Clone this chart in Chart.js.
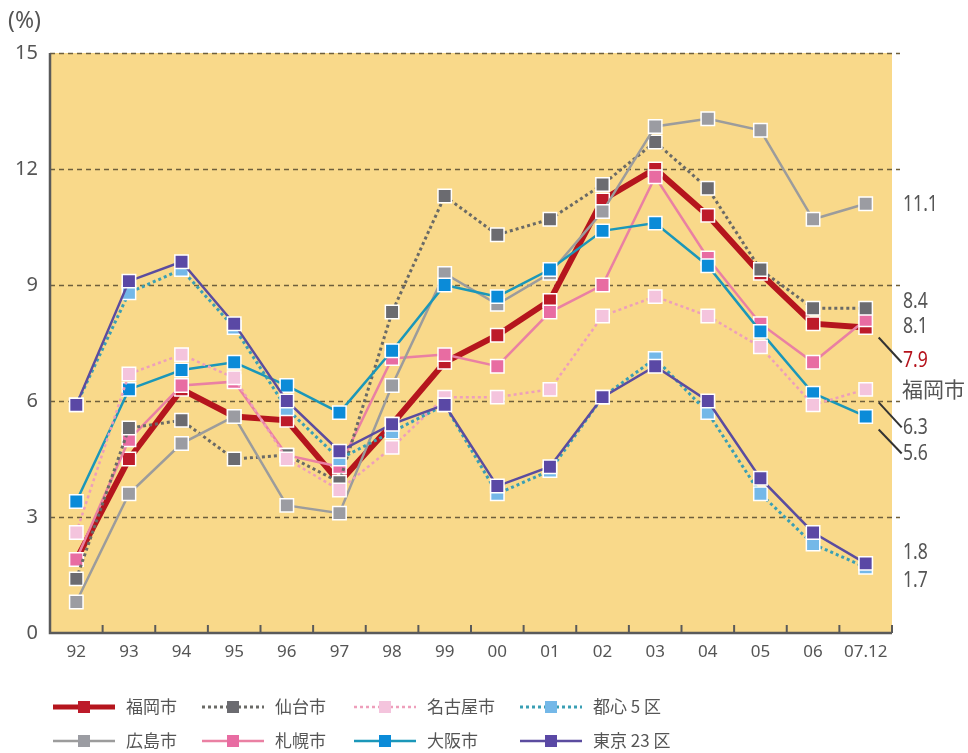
<!DOCTYPE html>
<html>
<head>
    <meta charset="utf-8">
    <title>空室率の推移</title>
    <script src="https://cdn.jsdelivr.net/npm/chart.js"></script>
    <style>
        body {
            margin: 0;
            background: #fff;
        }
    </style>
</head>
<body>
    <canvas id="chart" width="968" height="753"></canvas>

    <script>
        const years = ['92', '93', '94', '95', '96', '97', '98', '99', '00', '01', '02', '03', '04', '05', '06', '07.12'];
        const yTicks = [0, 3, 6, 9, 12, 15];

        const fukuoka = [1.9, 4.5, 6.3, 5.6, 5.5, 3.9, 5.4, 7.0, 7.7, 8.6, 11.2, 12.0, 10.8, 9.3, 8.0, 7.9];
        const sendai = [1.4, 5.3, 5.5, 4.5, 4.6, 3.9, 8.3, 11.3, 10.3, 10.7, 11.6, 12.7, 11.5, 9.4, 8.4, 8.4];
        const nagoya = [2.6, 6.7, 7.2, 6.6, 4.5, 3.7, 4.8, 6.1, 6.1, 6.3, 8.2, 8.7, 8.2, 7.4, 5.9, 6.3];
        const toshin5 = [5.9, 8.8, 9.4, 7.9, 5.8, 4.5, 5.2, 5.9, 3.6, 4.2, 6.1, 7.1, 5.7, 3.6, 2.3, 1.7];
        const hiroshima = [0.8, 3.6, 4.9, 5.6, 3.3, 3.1, 6.4, 9.3, 8.5, 9.3, 10.9, 13.1, 13.3, 13.0, 10.7, 11.1];
        const sapporo = [1.9, 5.0, 6.4, 6.5, 4.6, 4.3, 7.1, 7.2, 6.9, 8.3, 9.0, 11.8, 9.7, 8.0, 7.0, 8.1];
        const osaka = [3.4, 6.3, 6.8, 7.0, 6.4, 5.7, 7.3, 9.0, 8.7, 9.4, 10.4, 10.6, 9.5, 7.8, 6.2, 5.6];
        const tokyo23 = [5.9, 9.1, 9.6, 8.0, 6.0, 4.7, 5.4, 5.9, 3.8, 4.3, 6.1, 6.9, 6.0, 4.0, 2.6, 1.8];

        const GRAY = '#555';
        const NUM_FONT = '"Noto Sans", sans-serif';
        const JP_FONT = '"Noto Sans CJK JP", sans-serif';

        function series(label, data, line, marker, width, dash) {
            return {
                label: label,
                data: data,
                borderColor: line,
                borderWidth: width,
                borderDash: dash || [],
                backgroundColor: marker,
                pointBackgroundColor: marker,
                pointBorderColor: '#fff',
                pointBorderWidth: 1.5,
                pointStyle: 'rect',
                pointRadius: 9.5,
                pointHoverRadius: 9.5,
                tension: 0,
                fill: false
            };
        }

        // first entry ends up on top
        const datasets = [
            series('東京 23 区', tokyo23, '#5b4c9f', '#5a48a5', 2.5),
            series('都心 5 区', toshin5, '#3a9fb4', '#74b8e8', 3, [3, 3]),
            series('名古屋市', nagoya, '#ee9fbb', '#f4c4dd', 2.5, [3, 3]),
            series('大阪市', osaka, '#1b97b9', '#0b8bd8', 2.5),
            series('広島市', hiroshima, '#9c9c9c', '#9b9ca2', 2.5),
            series('仙台市', sendai, '#6a6a66', '#6b6b70', 3, [3, 3]),
            series('札幌市', sapporo, '#ea80a3', '#e86ca2', 2.5),
            series('福岡市', fukuoka, '#b5151d', '#bd1b2a', 6)
        ];

        // legend rows as laid out under the chart
        const legendRows = [
            ['福岡市', '仙台市', '名古屋市', '都心 5 区'],
            ['広島市', '札幌市', '大阪市', '東京 23 区']
        ];
        const legendCols = [53, 202, 354, 520];

        // narrow numerals for the values at the right edge
        function narrowText(ctx, text, x, y) {
            ctx.save();
            ctx.translate(x, y);
            ctx.scale(0.8, 1);
            ctx.fillText(text, 0, 0);
            ctx.restore();
        }

        const plotDecor = {
            id: 'plotDecor',
            beforeDraw(chart) {
                const { ctx, chartArea: a } = chart;
                ctx.save();
                ctx.fillStyle = '#f9d98a';
                ctx.fillRect(a.left, a.top, a.right - a.left, a.bottom - a.top);
                ctx.restore();
            },
            beforeDatasetsDraw(chart) {
                const { ctx, chartArea: a, scales } = chart;
                const y = scales.y;
                ctx.save();
                // dashed grid
                ctx.strokeStyle = '#6e5f3c';
                ctx.lineWidth = 1.5;
                ctx.setLineDash([5, 4]);
                yTicks.forEach(v => {
                    if (v === 0) return;
                    const py = Math.round(y.getPixelForValue(v)) + 0.5;
                    ctx.beginPath();
                    ctx.moveTo(a.left, py);
                    ctx.lineTo(a.right + 8, py);
                    ctx.stroke();
                });
                ctx.setLineDash([]);
                // axes
                ctx.strokeStyle = '#5a5a5a';
                ctx.lineWidth = 2.5;
                ctx.beginPath();
                ctx.moveTo(a.left, a.top);
                ctx.lineTo(a.left, a.bottom);
                ctx.lineTo(a.right, a.bottom);
                ctx.stroke();
                // tick marks between years
                const step = (a.right - a.left) / years.length;
                ctx.lineWidth = 2;
                for (let i = 1; i <= years.length; i++) {
                    const px = a.left + i * step;
                    ctx.beginPath();
                    ctx.moveTo(px, a.bottom);
                    ctx.lineTo(px, a.bottom - 8);
                    ctx.stroke();
                }
                ctx.restore();
            },
            afterDraw(chart) {
                const { ctx, chartArea: a, scales } = chart;
                const x = scales.x, y = scales.y;
                ctx.save();

                ctx.fillStyle = GRAY;
                ctx.font = '23px ' + NUM_FONT;
                ctx.textBaseline = 'middle';
                ctx.fillText('(%)', 8, 21);

                // end-of-line values at 07.12
                const last = years.length - 1;
                const lx = a.right + 11;
                const endX = x.getPixelForValue(last);
                const notes = [
                    { data: hiroshima, dy: 1 },
                    { data: sendai, dy: -6 },
                    { data: sapporo, dy: 7 },
                    { data: fukuoka, dy: 33, color: '#b5121b', lead: [10, 35] },
                    { data: nagoya, dy: 38, lead: [13, 38] },
                    { data: osaka, dy: 37, lead: [13, 37] },
                    { data: tokyo23, dy: -11 },
                    { data: toshin5, dy: 13 }
                ];
                notes.forEach(n => {
                    const v = n.data[last];
                    const py = y.getPixelForValue(v);
                    if (n.lead) {
                        ctx.strokeStyle = '#333';
                        ctx.lineWidth = 2;
                        ctx.beginPath();
                        ctx.moveTo(endX + 13, py + n.lead[0]);
                        ctx.lineTo(endX + 36, py + n.lead[1]);
                        ctx.stroke();
                    }
                    ctx.fillStyle = n.color || GRAY;
                    ctx.font = '22px ' + NUM_FONT;
                    narrowText(ctx, v.toFixed(1), lx, py + n.dy);
                    if (n.data === fukuoka) {
                        ctx.fillStyle = GRAY;
                        ctx.font = '21px ' + JP_FONT;
                        ctx.fillText('福岡市', lx - 1, py + n.dy + 28);
                    }
                });

                // legend
                ctx.font = '17px ' + JP_FONT;
                legendRows.forEach((row, r) => {
                    const ry = 707 + r * 34;
                    row.forEach((name, c) => {
                        const ds = datasets.find(d => d.label === name);
                        const x0 = legendCols[c];
                        ctx.strokeStyle = ds.borderColor;
                        ctx.lineWidth = Math.min(ds.borderWidth, 5);
                        ctx.setLineDash(ds.borderDash);
                        ctx.beginPath();
                        ctx.moveTo(x0, ry);
                        ctx.lineTo(x0 + 62, ry);
                        ctx.stroke();
                        ctx.setLineDash([]);
                        ctx.fillStyle = ds.pointBackgroundColor;
                        ctx.fillRect(x0 + 25, ry - 6, 12, 12);
                        ctx.fillStyle = GRAY;
                        ctx.fillText(name, x0 + 73, ry);
                    });
                });
                ctx.restore();
            }
        };

        const chart = new Chart(document.getElementById('chart'), {
            type: 'line',
            data: {
                labels: years,
                datasets: datasets
            },
            options: {
                responsive: false,
                devicePixelRatio: 1,
                animation: false,
                events: [],
                layout: {
                    padding: { top: 53, right: 76, bottom: 0, left: 0 }
                },
                plugins: {
                    legend: { display: false },
                    tooltip: { enabled: false }
                },
                scales: {
                    x: {
                        offset: true,
                        grid: { display: false, drawTicks: false },
                        border: { display: false },
                        ticks: {
                            color: GRAY,
                            font: { family: NUM_FONT, size: 17 },
                            padding: 9,
                            autoSkip: false,
                            maxRotation: 0
                        },
                        afterFit(scale) { scale.height = 120; }
                    },
                    y: {
                        min: 0,
                        max: 15,
                        grid: { display: false, drawTicks: false },
                        border: { display: false },
                        ticks: {
                            stepSize: 3,
                            color: GRAY,
                            font: { family: NUM_FONT, size: 20 },
                            padding: 12
                        },
                        afterFit(scale) { scale.width = 50; }
                    }
                }
            },
            plugins: [plotDecor]
        });
    </script>
</body>
</html>
